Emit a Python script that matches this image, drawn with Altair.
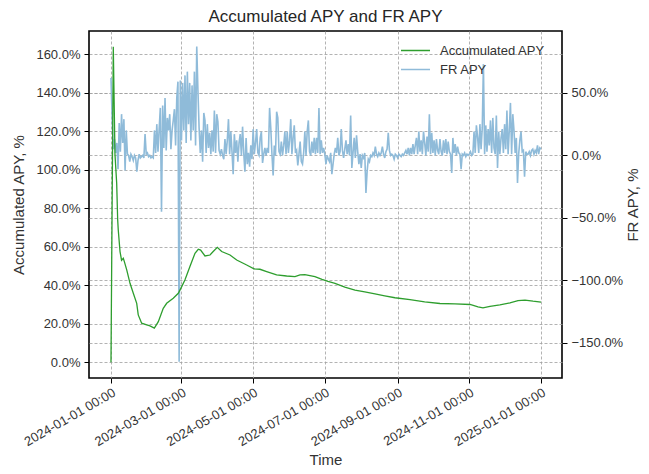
import altair as alt
import pandas as pd

start_date = "2024-01-01"

# FR APY, %, one reading per day from 2024-01-01
fr_apy = [
    62, 30, 5, 13, 2, 10, -11, 26, 3, 33,
    10, 29, -12, 20, 1, 0, -5, 1, -1, -4,
    0, -2, -13, -4, 1, -2, -1, 0, -2, 17,
    1, 2, -1, 0, -2, -1, -2, 20, 2, 25,
    3, 21, 38, -45, 40, 6, 46, 4, 30, 20,
    33, 5, 20, 28, 37, 8, 46, 59, -165, 60,
    12, 58, 20, 64, 10, 67, 25, 58, 12, 56,
    20, 67, 8, 87, 52, 22, 2, 20, -5, 34,
    28, 2, 25, 6, 18, 1, 20, 3, 36, 2,
    33, 27, 4, 1, 5, 0, -3, 13, 1, 12,
    29, 1, 19, 3, -15, 17, 2, 12, -5, 10,
    17, 0, 23, 2, -13, 14, -7, 2, -9, 8,
    -3, 21, 1, 10, 21, 2, 0, 14, 19, -6,
    1, 6, 0, 6, 2, 38, 22, 1, -16, 8,
    0, 35, 30, 3, 1, 11, 0, 8, 19, 1,
    19, 2, 12, 29, 1, 14, 24, 2, 4, -8,
    1, 11, -5, -7, 2, 19, 0, 19, 28, 3,
    0, 11, 2, 14, 1, 14, 2, 38, 1, 12,
    2, 6, 1, -7, 0, -3, -5, 2, -15, -7,
    1, 6, 2, 14, 0, 3, 21, 4, -2, 5,
    12, 1, 9, 0, 32, -10, 2, 14, -2, 16,
    3, -7, 1, -10, 0, -2, 2, -30, -13, -3,
    -5, 0, -1, 2, 0, 7, 1, -1, 2, 0,
    2, 7, 1, -2, 3, 5, 18, 4, 0, 1,
    0, -3, 1, 0, -2, 1, 0, -1, 1, 0,
    2, 4, 1, 6, 0, 6, 1, 9, 1, 8,
    14, 1, 19, 3, 12, 1, 19, 10, 0, 15,
    3, 33, 1, 18, 2, 12, 0, 13, 4, 1,
    13, 3, 0, 12, 2, 13, 1, 11, 3, 1,
    -14, 14, 2, 9, 0, 7, 2, 1, -11, 1,
    0, 2, -1, 1, 0, 1, 3, 0, 1, 19,
    2, 24, 15, 2, 25, 5, 22, 73, 1, 24,
    3, 21, 8, 28, 2, 30, 6, 1, 32, -10,
    19, 1, 14, 21, 2, 25, 5, 36, 1, 20,
    42, 1, 33, 20, 2, 14, -22, 1, 12, 19,
    3, 4, -17, 3, 1, 1, 3, 0, 4, 5,
    1, 4, 2, 8, 1, 6, 5,
]

# Accumulated APY, %: days after 2024-01-01 and values
acc_days = [0, 1.96, 3.4, 4.85, 5.7, 6.2, 7.7, 9.0, 10.5, 11.5, 13.4, 16.2, 19, 21.9,
            23.2, 26.1, 30.4, 33.2, 36.9, 40.3, 44.5, 47.4, 53, 57.3, 60.2, 63, 67.2,
            71.5, 74.3, 76.3, 80, 84.3, 87, 90.5, 94.2, 101.3, 107, 115.5, 121.7, 126.8,
            132.5, 141, 149.5, 156.6, 160.9, 165, 173.6, 179.6, 184.7, 190.7, 199, 207.7,
            216, 224.7, 233, 241.7, 254.5, 267, 280, 292.8, 305.6, 312.4, 316.6, 322.6,
            331, 339.6, 346.4, 352.4, 359.2, 366]
acc_vals = [0, 163.9, 108, 93, 74, 68.7, 57.5, 53, 54, 52, 48, 41, 35.8, 30.6,
            24.6, 20.3, 19.4, 18.9, 17.7, 21.1, 28, 30.6, 33.2, 35.8, 39.3, 42.8, 49.7,
            56.6, 58.7, 58.3, 55.2, 55.7, 57.5, 59.7, 57.5, 55.7, 53.1, 50.5, 48.5, 48.3,
            47.1, 45.4, 44.8, 44.5, 45.4, 45.5, 44.5, 43.0, 42.0, 41.0, 39.0, 37.5,
            36.5, 35.5, 34.5, 33.5, 32.5, 31.3, 30.5, 30.3, 30.0, 28.7, 28.2, 29.0,
            29.8, 30.8, 32.0, 32.3, 31.7, 31.2]

series_names = ["Accumulated APY", "FR APY"]
series_colors = ["#2e9e2e", "#8fbbd9"]
left_ticks = [0, 20, 40, 60, 80, 100, 120, 140, 160]
right_ticks = [-150, -100, -50, 0, 50]

base = pd.Timestamp(start_date)
fr_df = pd.DataFrame({
    "date": pd.date_range(start_date, periods=len(fr_apy), freq="D"),
    "value": fr_apy,
    "series": "FR APY",
})
acc_df = pd.DataFrame({
    "date": [base + pd.Timedelta(days=d) for d in acc_days],
    "value": acc_vals,
    "series": "Accumulated APY",
})

FONT = "Liberation Sans"
TXT = "#333333"
GRID = dict(grid=True, gridColor="#a0a0a0", gridDash=[3, 2], gridWidth=0.8)
TICKS = dict(domain=False, ticks=True, tickColor="black", tickSize=5, tickWidth=1,
             labelFont=FONT, labelFontSize=13, labelColor=TXT,
             titleFont=FONT, titleFontSize=15, titleColor=TXT, titleFontWeight="normal")

x_enc = alt.X(
    "date:T",
    scale=alt.Scale(domain=[alt.DateTime(year=2023, month=12, date=13, hours=7),
                            alt.DateTime(year=2025, month=1, date=18, hours=21)]),
    axis=alt.Axis(
        values=[alt.DateTime(year=2024, month=m, date=1) for m in [1, 3, 5, 7, 9, 11]]
        + [alt.DateTime(year=2025, month=1, date=1)],
        format="%Y-%m-%d %H:%M", labelAngle=330, labelAlign="right",
        labelBaseline="top", labelPadding=3, labelOverlap=False, title="Time",
        titleY=86, titleBaseline="alphabetic", **GRID, **TICKS,
    ),
)

color_enc = alt.Color(
    "series:N",
    scale=alt.Scale(domain=series_names, range=series_colors),
    legend=alt.Legend(orient="none", legendX=311, legendY=11, title=None,
                      symbolType="stroke", symbolSize=841, symbolStrokeWidth=1.5,
                      labelFont=FONT, labelFontSize=13, labelColor=TXT,
                      labelOffset=9, clipHeight=17, rowPadding=2, padding=0),
)

acc_line = alt.Chart(acc_df).mark_line(strokeWidth=1.3).encode(
    x=x_enc,
    y=alt.Y("value:Q",
            scale=alt.Scale(domain=[-8.2, 172.1], nice=False, zero=False),
            axis=alt.Axis(orient="left", values=left_ticks,
                          labelExpr="format(datum.value, '.1f') + '%'",
                          title="Accumulated APY, %", titleX=-71, titleBaseline="middle",
                          titleAngle=270, labelPadding=4, **GRID, **TICKS)),
    color=color_enc,
)

fr_line = alt.Chart(fr_df).mark_line(strokeWidth=1.6).encode(
    x=x_enc,
    y=alt.Y("value:Q",
            scale=alt.Scale(domain=[-178, 99.5], nice=False, zero=False),
            axis=alt.Axis(orient="right", values=right_ticks,
                          labelExpr="format(datum.value, '.1f') + '%'",
                          title="FR APY, %", titleX=70, titleBaseline="middle",
                          titleAngle=270, labelPadding=4, **GRID, **TICKS)),
    color=color_enc,
)

chart = alt.layer(fr_line, acc_line).resolve_scale(y="independent").properties(
    width=473,
    height=347,
    autosize=alt.AutoSizeParams(type="none"),
    padding={"left": 81, "top": 23, "right": 79, "bottom": 88},
    title=alt.TitleParams("Accumulated APY and FR APY", font=FONT, fontSize=17,
                          fontWeight="normal", color="#262626", offset=5, anchor="middle"),
).configure(background="white").configure_view(stroke="black", strokeWidth=1.6)

chart.save("out.html", embed_options={"renderer": "svg", "actions": False})
